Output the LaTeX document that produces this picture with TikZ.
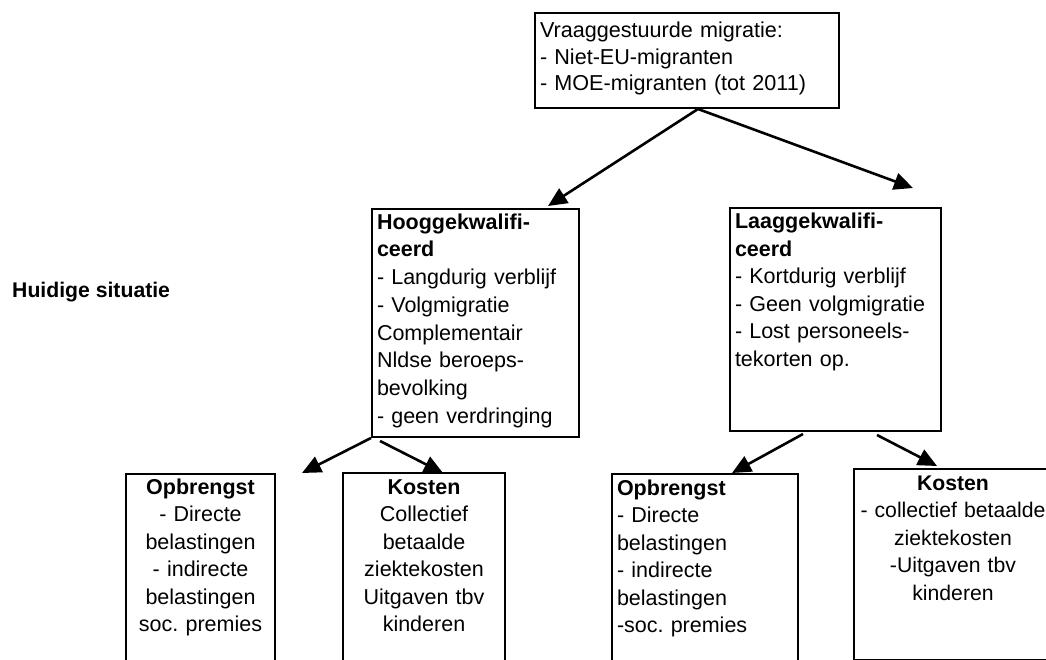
\documentclass[tikz,border=0pt]{standalone}
\usepackage{fontspec}
\setmainfont{Liberation Sans}
\usetikzlibrary{arrows.meta,calc}
\begin{document}
\begin{tikzpicture}[x=1pt,y=-1pt,
  bx/.style={draw, line width=2pt, anchor=north west, inner xsep=5pt, inner ysep=0pt,
             font=\fontsize{21.5}{27.5}\selectfont},
  arr/.style={line width=2.6pt, -{Triangle[length=19pt,width=17pt]}},
  lbl/.style={anchor=base west, inner sep=0pt, font=\fontsize{21.2}{27.5}\selectfont\bfseries}]
\useasboundingbox (0,0) rectangle (1046,660);
\fill[white] (0,0) rectangle (1046,660);
\clip (0,0) rectangle (1046,660);

\node[lbl] (situatie) at (12,297) {Huidige situatie};

\node[bx, text width=294pt, text height=25pt, text depth=70pt, align=left,
      font=\fontsize{21.6}{26.5}\selectfont] (top) at (534,12)
  {Vraaggestuurde migratie:\\- Niet-EU-migranten\\- MOE-migranten (tot 2011)};

\node[bx, text width=197pt, text height=20.3pt, text depth=207.7pt, align=left,
      font=\fontsize{21.5}{27.7}\selectfont] (hoog) at (371,208)
  {\textbf{Hooggekwalifi-}\\\textbf{ceerd}\\- Langdurig verblijf\\- Volgmigratie\\Complementair\\Nldse beroeps-\\bevolking\\- geen verdringing};

\node[bx, text width=201pt, text height=21pt, text depth=202pt, align=left] (laag) at (729,207)
  {\textbf{Laaggekwalifi-}\\\textbf{ceerd}\\- Kortdurig verblijf\\- Geen volgmigratie\\- Lost personeels-\\tekorten op.};

\node[bx, text width=139pt, text height=20pt, text depth=207pt, align=center] (opL) at (125,473)
  {\textbf{Opbrengst}\\- Directe\\belastingen\\- indirecte\\belastingen\\soc.\ premies};

\node[bx, text width=152pt, text height=21pt, text depth=207pt, align=center] (kosL) at (342,472)
  {\textbf{Kosten}\\Collectief\\betaalde\\ziektekosten\\Uitgaven tbv\\kinderen};

\node[bx, text width=176pt, text height=21pt, text depth=206pt, align=left] (opR) at (611,473)
  {\textbf{Opbrengst}\\- Directe\\belastingen\\- indirecte\\belastingen\\-soc.\ premies};

\node[bx, text width=188pt, text height=21pt, text depth=170pt, align=center,
      font=\fontsize{21.2}{27.5}\selectfont] (kosR) at (853,468)
  {\textbf{Kosten}\\- collectief betaalde\\ziektekosten\\-Uitgaven tbv\\kinderen};

\coordinate (tHoog) at (548,206);
\coordinate (tLaag) at (913,188);
\coordinate (tOpL) at (302,473);
\coordinate (tKosL) at (443,473);
\coordinate (tOpR) at (732,473);
\coordinate (tKosR) at (937,466);

\draw[arr] ($(top.south west)+(164,0)$) -- (tHoog);
\draw[arr] ($(top.south west)+(164,0)$) -- (tLaag);
\draw[arr] (hoog.south west) -- (tOpL);
\draw[arr] ($(hoog.south west)+(9,3)$) -- (tKosL);
\draw[arr] ($(laag.south west)+(74,2)$) -- (tOpR);
\draw[arr] ($(laag.south west)+(148,3)$) -- (tKosR);
\end{tikzpicture}
\end{document}
